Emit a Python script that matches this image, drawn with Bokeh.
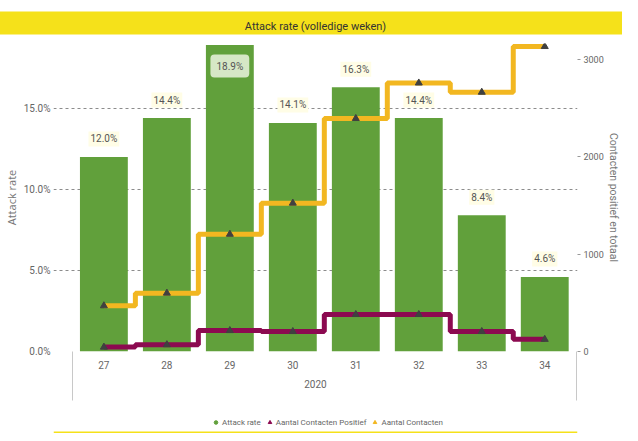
from bokeh.plotting import figure
from bokeh.models import (Range1d, LinearAxis, FixedTicker, NumeralTickFormatter,
                          Label, Legend, LegendItem, ColumnDataSource, Title, Span)
from bokeh.layouts import column
from bokeh.embed import file_html
from bokeh.resources import INLINE

# ---- data ----
title_text = "Attack rate (volledige weken)"
year = "2020"
weeks = ["27", "28", "29", "30", "31", "32", "33", "34"]
attack_rate = [12.0, 14.4, 18.9, 14.1, 16.3, 14.4, 8.4, 4.6]          # percent
contacten_positief = [45, 70, 215, 205, 380, 380, 205, 125]
contacten = [470, 600, 1205, 1525, 2395, 2760, 2665, 3135]
left_ticks = [0.0, 0.05, 0.10, 0.15]
right_ticks = [0, 1000, 2000, 3000]
legend_labels = ["Attack rate", "Aantal Contacten Positief", "Aantal Contacten"]

# ---- styles ----
NARROW = "Roboto"
WIDE = "Open Sans"
GREEN = "#61A03B"
ORANGE = "#F2B721"
PURPLE = "#8C0A50"
YELLOW = "#F5E11A"
MARK = "#404040"
GRAY = "#666666"
W = 622

xs = list(range(len(weeks)))
src = ColumnDataSource(dict(
    x=xs,
    rate=[v / 100 for v in attack_rate],
    pos=contacten_positief,
    tot=contacten,
))

y_max = 0.19
p = figure(width=W, height=405, x_range=Range1d(-0.80, 7.52),
           y_range=Range1d(0, y_max), toolbar_location=None,
           output_backend="svg", min_border_left=47, min_border_right=30,
           min_border_top=42, min_border_bottom=54, outline_line_color=None)
p.extra_y_ranges = {"right": Range1d(0, 3166)}

# title band
p.title = Title(text=title_text, align="center", text_font=NARROW,
                text_font_size="11px", text_font_style="normal",
                text_color="#333333", background_fill_color=YELLOW,
                padding=dict(left=340, right=340, top=8, bottom=2),
                standoff=18)

# left axis
ya = p.yaxis[0]
ya.ticker = FixedTicker(ticks=left_ticks)
ya.formatter = NumeralTickFormatter(format="0.0%")
ya.axis_line_color = None
ya.major_tick_out = 0
ya.major_tick_in = 0
ya.major_tick_line_color = None
ya.minor_tick_line_color = None
ya.major_label_standoff = 3
ya.major_label_text_font = NARROW
ya.major_label_text_font_size = "10px"
ya.major_label_text_color = GRAY
ya.axis_label = "Attack rate"
ya.axis_label_text_font = WIDE
ya.axis_label_text_font_size = "11px"
ya.axis_label_text_font_style = "normal"
ya.axis_label_text_color = "#777777"
ya.axis_label_standoff = 2

# right axis
ra = LinearAxis(y_range_name="right", ticker=FixedTicker(ticks=right_ticks))
ra.axis_line_color = None
ra.major_tick_in = 0
ra.major_tick_out = 3
ra.major_tick_line_color = "#999999"
ra.minor_tick_line_color = None
ra.major_label_standoff = 3
ra.major_label_text_font = NARROW
ra.major_label_text_font_size = "9px"
ra.major_label_text_color = GRAY
ra.axis_label = "Contacten positief en totaal"
ra.axis_label_text_font = NARROW
ra.axis_label_text_font_size = "10.5px"
ra.axis_label_text_font_style = "normal"
ra.axis_label_text_color = "#777777"
ra.axis_label_standoff = 0
p.add_layout(ra, "right")

# x axis (week labels, year as axis label, separators as downward minor ticks)
xa = p.xaxis[0]
xa.ticker = FixedTicker(ticks=xs, minor_ticks=[-0.5, len(weeks) - 0.5])
xa.major_label_overrides = {i: w for i, w in enumerate(weeks)}
xa.axis_line_color = None
xa.major_tick_line_color = None
xa.major_tick_out = 0
xa.major_tick_in = 0
xa.minor_tick_in = -49
xa.minor_tick_out = 0
xa.minor_tick_line_color = "#c8c8c8"
xa.major_label_standoff = 9
xa.major_label_text_font = NARROW
xa.major_label_text_font_size = "10px"
xa.major_label_text_color = GRAY
xa.axis_label = year
xa.axis_label_text_font = NARROW
xa.axis_label_text_font_size = "10px"
xa.axis_label_text_font_style = "normal"
xa.axis_label_text_color = GRAY
xa.axis_label_standoff = 8

# grid
p.xgrid.visible = False
p.ygrid[0].ticker = FixedTicker(ticks=left_ticks)
p.ygrid.grid_line_color = "#8c8c8c"
p.ygrid.grid_line_dash = "3 3"
p.ygrid.grid_line_width = 1

# bars
p.vbar(x="x", top="rate", width=0.76, source=src, fill_color=GREEN,
       line_color=None)

# step lines + markers
p.step("x", "tot", source=src, mode="center", line_width=5,
       line_color=ORANGE, y_range_name="right")
p.step("x", "pos", source=src, mode="center", line_width=5,
       line_color=PURPLE, y_range_name="right")
p.scatter("x", "tot", source=src, marker="triangle", size=7, fill_color=MARK,
          line_color=MARK, y_range_name="right")
p.scatter("x", "pos", source=src, marker="triangle", size=7, fill_color=MARK,
          line_color=MARK, y_range_name="right")

# bar labels
px_per_unit = 309 / y_max
for i, v in enumerate(attack_rate):
    r = v / 100
    txt = f"{v:.1f}%"
    if r + 26 / px_per_unit > y_max:
        p.add_layout(Label(x=i, y=r, text=txt, y_offset=-21, text_align="center",
                           text_baseline="middle", text_font=NARROW,
                           text_font_size="10px", text_color="#555555",
                           background_fill_color="#D6E7C6", padding=6,
                           border_radius=4))
    else:
        p.add_layout(Label(x=i, y=r, text=txt, y_offset=18, text_align="center",
                           text_baseline="middle", text_font=NARROW,
                           text_font_size="10px", text_color="#555555",
                           background_fill_color="#FFFDE6", padding=2))

# ---- legend strip ----
lg = figure(width=W, height=28, x_range=Range1d(0, 1), y_range=Range1d(0, 1),
            toolbar_location=None, output_backend="svg", min_border=0,
            x_axis_location=None, y_axis_location=None,
            outline_line_color=None)
lg.grid.visible = False
nan = float("nan")
swatches = [
    lg.scatter(x=[nan], y=[nan], marker="circle", size=8, fill_color=GREEN, line_color=GREEN),
    lg.scatter(x=[nan], y=[nan], marker="triangle", size=8, fill_color=PURPLE, line_color=PURPLE),
    lg.scatter(x=[nan], y=[nan], marker="triangle", size=8, fill_color=ORANGE, line_color=ORANGE),
]
legend = Legend(items=[LegendItem(label=lab, renderers=[r])
                       for lab, r in zip(legend_labels, swatches)],
                location=(158, 6), orientation="horizontal",
                background_fill_alpha=0, border_line_color=None,
                label_text_font=NARROW, label_text_font_size="8px",
                label_text_color=GRAY, glyph_width=9, glyph_height=10,
                label_height=10, label_standoff=2, spacing=4, padding=0,
                margin=0)
lg.add_layout(legend)
lg.add_layout(Span(location=0, dimension="width", line_color=YELLOW, line_width=4))

layout = column(p, lg, spacing=0)
open("out.html", "w").write(file_html(layout, INLINE))
